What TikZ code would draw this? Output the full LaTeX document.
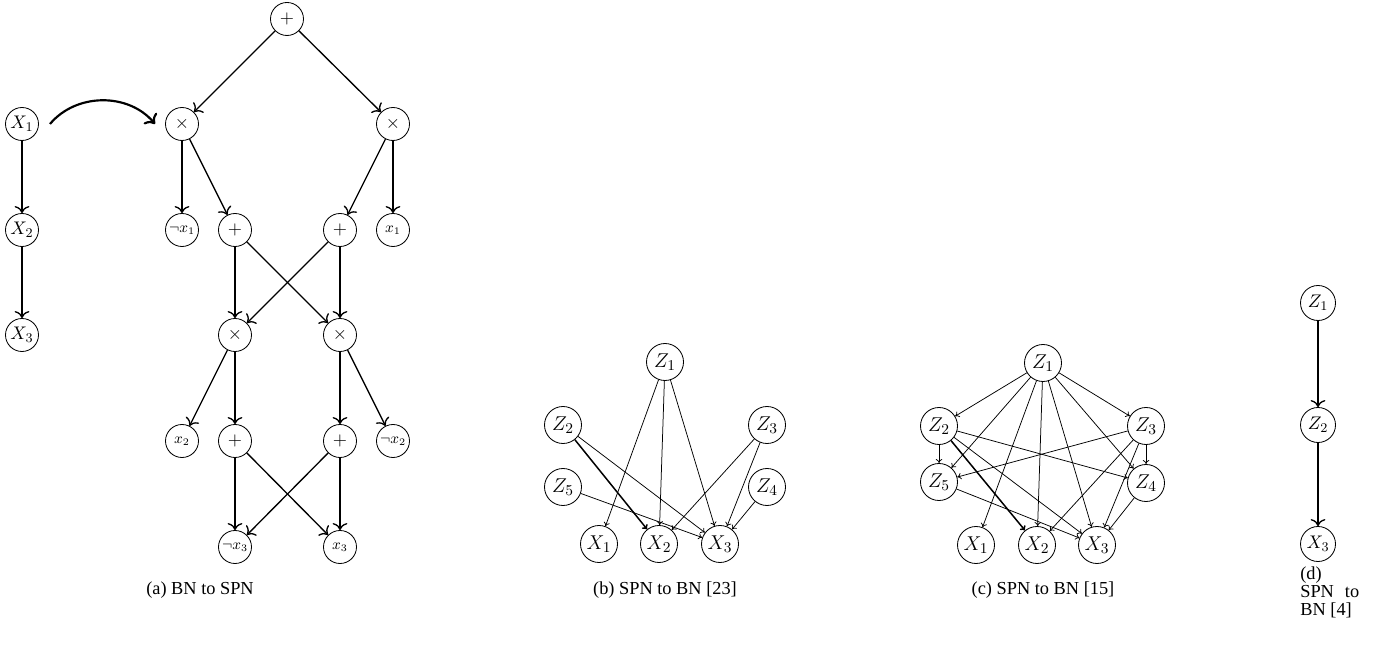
\documentclass[tikz,border=0pt]{standalone}
\usepackage{fontspec}
\setmainfont{Liberation Serif}
\usetikzlibrary{arrows.meta}
\begin{document}
\begin{tikzpicture}[x=0.6pt,y=-0.6pt,
  vA/.style={circle,draw,line width=0.5pt,inner sep=0pt,minimum size=19.8pt,
             font=\fontsize{10.95}{13}\selectfont},
  lfA/.style={vA,font=\fontsize{9}{10}\selectfont},
  vB/.style={circle,draw,line width=0.5pt,inner sep=0pt,minimum size=22.2pt,
             font=\fontsize{13}{15}\selectfont},
  vD/.style={circle,draw,line width=0.5pt,inner sep=0pt,minimum size=21pt,
             font=\fontsize{10.95}{13}\selectfont},
  eA/.style={-{To[scale=1.25]},line width=0.8pt},
  eB/.style={-{To[length=2.4pt,width=3.8pt]},line width=0.45pt},
  eBold/.style={-{To[length=2.6pt,width=4.2pt]},line width=0.9pt},
  captext/.style={anchor=base,font=\fontsize{11}{11}\selectfont,inner sep=0pt},
]
\useasboundingbox (0,0) rectangle (1373,651);

% ---------- (a) BN to SPN ----------
\node[vA] (aX1) at (22,124) {$X_1$};
\node[vA] (aX2) at (22,230) {$X_2$};
\node[vA] (aX3) at (22,335) {$X_3$};
\draw[eA] (aX1) -- (aX2);
\draw[eA] (aX2) -- (aX3);

\coordinate (trS) at (50,124);
\coordinate (trE) at (155,124);
\draw[-{To[scale=1.1]},line width=1.3pt] (trS) to[bend left=50] (trE);

\node[vA] (root) at (287,19) {$+$};
\node[vA] (pL) at (182,124) {$\times$};
\node[vA] (pR) at (393,124) {$\times$};
\node[lfA] (nx1) at (182,230) {$\neg x_1$};
\node[vA] (s1) at (235,230) {$+$};
\node[vA] (s2) at (340,230) {$+$};
\node[lfA] (x1) at (393,230) {$x_1$};
\node[vA] (q1) at (235,335) {$\times$};
\node[vA] (q2) at (340,335) {$\times$};
\node[lfA] (x2) at (182,441) {$x_2$};
\node[vA] (t1) at (235,441) {$+$};
\node[vA] (t2) at (340,441) {$+$};
\node[lfA] (nx2) at (393,441) {$\neg x_2$};
\node[lfA] (nx3) at (235,547) {$\neg x_3$};
\node[lfA] (x3) at (340,547) {$x_3$};

\draw[eA] (root) -- (pL);
\draw[eA] (root) -- (pR);
\draw[eA] (pL) -- (nx1);
\draw[eA] (pL) -- (s1);
\draw[eA] (pR) -- (s2);
\draw[eA] (pR) -- (x1);
\draw[eA] (s1) -- (q1);
\draw[eA] (s1) -- (q2);
\draw[eA] (s2) -- (q1);
\draw[eA] (s2) -- (q2);
\draw[eA] (q1) -- (x2);
\draw[eA] (q1) -- (t1);
\draw[eA] (q2) -- (t2);
\draw[eA] (q2) -- (nx2);
\draw[eA] (t1) -- (nx3);
\draw[eA] (t1) -- (x3);
\draw[eA] (t2) -- (nx3);
\draw[eA] (t2) -- (x3);

\node[captext] (capA) at (200,595) {(a) BN to SPN};

% ---------- (b) SPN to BN [23] ----------
\node[vB] (bZ1) at (665,362) {$Z_1$};
\node[vB] (bZ2) at (563,425) {$Z_2$};
\node[vB] (bZ3) at (767,425) {$Z_3$};
\node[vB] (bZ5) at (563,487) {$Z_5$};
\node[vB] (bZ4) at (767,487) {$Z_4$};
\node[vB] (bX1) at (599,544) {$X_1$};
\node[vB] (bX2) at (659,544) {$X_2$};
\node[vB] (bX3) at (720,544) {$X_3$};

\draw[eB] (bZ1) -- (bX1);
\draw[eB] (bZ1) -- (bX2);
\draw[eB] (bZ1) -- (bX3);
\draw[eBold] (bZ2) -- (bX2);
\draw[eB] (bZ2) -- (bX3);
\draw[eB] (bZ5) -- (bX3);
\draw[eB] (bZ3) -- (bX2);
\draw[eB] (bZ3) -- (bX3);
\draw[eB] (bZ4) -- (bX3);

\node[captext] (capB) at (665,595) {(b) SPN to BN [23]};

% ---------- (c) SPN to BN [15] ----------
\node[vB] (cZ1) at (1043,363) {$Z_1$};
\node[vB] (cZ2) at (939,426) {$Z_2$};
\node[vB] (cZ3) at (1146,426) {$Z_3$};
\node[vB] (cZ5) at (939,482) {$Z_5$};
\node[vB] (cZ4) at (1146,483) {$Z_4$};
\node[vB] (cX1) at (976,545) {$X_1$};
\node[vB] (cX2) at (1037,545) {$X_2$};
\node[vB] (cX3) at (1097,545) {$X_3$};

\foreach \t in {cZ2,cZ3,cZ5,cZ4,cX1,cX2,cX3}
  \draw[eB] (cZ1) -- (\t);
\draw[eB] (cZ2) -- (cZ5);
\draw[eB] (cZ2) -- (cZ4);
\draw[eBold] (cZ2) -- (cX2);
\draw[eB] (cZ2) -- (cX3);
\draw[eB] (cZ3) -- (cZ4);
\draw[eB] (cZ3) -- (cZ5);
\draw[eB] (cZ3) -- (cX2);
\draw[eB] (cZ3) -- (cX3);
\draw[eB] (cZ5) -- (cX3);
\draw[eB] (cZ4) -- (cX3);

\node[captext] (capC) at (1043,595) {(c) SPN to BN [15]};

% ---------- (d) SPN to BN [4] ----------
\node[vD] (dZ1) at (1318,303) {$Z_1$};
\node[vD] (dZ2) at (1318,425) {$Z_2$};
\node[vD] (dX3) at (1318,544) {$X_3$};
\draw[eA] (dZ1) -- (dZ2);
\draw[eA] (dZ2) -- (dX3);

\node[anchor=north west,inner sep=0pt,align=left,
      font=\fontsize{11}{11}\selectfont] (capD) at (1300,566)
  {(d)\\ SPN\hspace{0.6em}to\\ BN [4]};
\end{tikzpicture}
\end{document}
